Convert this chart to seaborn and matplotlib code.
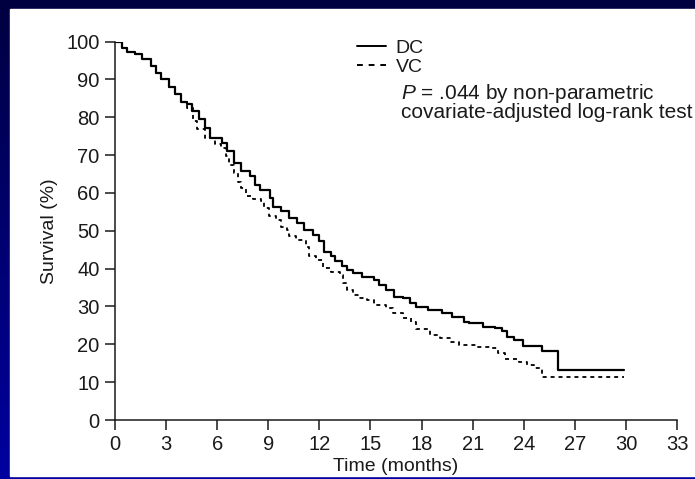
import numpy as np
import pandas as pd
import seaborn as sns
import matplotlib.pyplot as plt
from matplotlib.patches import Rectangle
from matplotlib.colors import LinearSegmentedColormap

# Kaplan-Meier style step data: time (months) -> survival (%)
dc_time = [0, 0.43, 0.72, 1.2, 1.6, 2.1, 2.4, 2.7, 3.2, 3.5, 3.86, 4.25, 4.55, 4.94,
           5.3, 5.6, 6.3, 6.6, 7.0, 7.4, 7.9, 8.2, 8.5, 9.1, 9.25, 9.75, 10.2, 10.7,
           11.1, 11.6, 12.0, 12.3, 12.7, 12.9, 13.3, 13.6, 13.96, 14.5, 15.2, 15.5,
           15.9, 16.4, 16.9, 17.3, 17.7, 18.4, 19.2, 19.8, 20.5, 20.8, 21.6, 22.3,
           22.7, 23.0, 23.4, 23.96, 25.1, 26.0, 29.9]
dc_surv = [100, 98.4, 97.3, 96.6, 95.3, 93.6, 91.8, 90, 88, 86, 83.9, 83.4, 81.7, 79.5,
           77.2, 74.6, 73.3, 71, 67.9, 65.7, 64.4, 62.2, 60.8, 58.6, 56.4, 55.1, 53.3, 52,
           50.3, 48.9, 47.2, 44.5, 43.2, 41.9, 40.6, 39.7, 38.8, 37.8, 37, 35.7,
           34.4, 32.6, 32.2, 30.9, 29.8, 29.1, 28.2, 27.3, 26, 25.6, 24.7, 24.3,
           23.4, 22, 21.2, 19.6, 18.1, 13.2, 13.2]

vc_time = [0, 0.43, 0.72, 1.2, 1.6, 2.1, 2.4, 2.7, 3.2, 3.5, 3.86, 4.2, 4.6, 4.8,
           5.3, 5.9, 6.2, 6.5, 6.7, 7.0, 7.2, 7.4, 7.7, 8.1, 8.6, 8.76, 9.06, 9.45,
           9.75, 10.1, 10.2, 10.6, 11.2, 11.4, 11.8, 12.2, 12.7, 13.2, 13.4, 13.6,
           13.96, 14.35, 14.8, 15.2, 15.9, 16.3, 16.9, 17.4, 17.7, 18.5, 19.1, 19.75,
           20.2, 21.2, 22.0, 22.5, 22.9, 23.7, 24.2, 24.6, 25.1, 29.9]
vc_surv = [100, 98.4, 97.3, 96.6, 95.3, 93.6, 91.8, 90, 88, 86, 83.9, 82.5, 79, 77,
           74.6, 73, 71.9, 69.7, 67.5, 65.3, 63, 61.3, 59.1, 58.5, 57.8, 56, 53.8, 52.9,
           51.1, 50.3, 48.5, 47.6, 45.8, 43.2, 42.3, 40.1, 39.2, 38.4, 36.2, 34.4,
           33.1, 32.2, 31.7, 30.4, 29.5, 28.2, 26.9, 26, 24.0, 22.5, 21.6, 20.7,
           19.8, 19.4, 19, 17.6, 16, 15.4, 14.5, 13.7, 11.3, 11.3]

x_ticks = list(range(0, 34, 3))
y_ticks = list(range(0, 101, 10))

sns.set_style('ticks')
plt.rcParams['font.family'] = ['Liberation Sans', 'DejaVu Sans']
plt.rcParams['mathtext.fontset'] = 'custom'
plt.rcParams['mathtext.it'] = 'Liberation Sans:italic'
plt.rcParams['mathtext.rm'] = 'Liberation Sans'

txt = '#1a1a1a'

fig = plt.figure(figsize=(6.95, 4.79), dpi=100)

# navy slide background with a white panel
bg = fig.add_axes([0, 0, 1, 1], zorder=-10)
grad = np.linspace(0, 1, 256).reshape(-1, 1)
bg.imshow(grad, aspect='auto', extent=[0, 1, 0, 1], origin='upper',
          cmap=LinearSegmentedColormap.from_list('navy', ['#000040', '#0000a0']))
bg.add_patch(Rectangle((10 / 695, 3 / 479), 1, 1 - 12 / 479, color='white'))
bg.set_xlim(0, 1)
bg.set_ylim(0, 1)
bg.axis('off')

ax = fig.add_axes([115 / 695, 1 - 420 / 479, 562 / 695, 378.5 / 479])
ax.patch.set_alpha(0)

dc = pd.DataFrame({'time': dc_time, 'survival': dc_surv})
vc = pd.DataFrame({'time': vc_time, 'survival': vc_surv})
sns.lineplot(data=dc, x='time', y='survival', ax=ax, color='black', lw=1.6,
             drawstyle='steps-post', label='DC')
sns.lineplot(data=vc, x='time', y='survival', ax=ax, color='black', lw=1.3,
             drawstyle='steps-post', linestyle=(0, (2.2, 2.2)), label='VC')

ax.set_xlim(0, 33)
ax.set_ylim(0, 100)
ax.set_xticks(x_ticks)
ax.set_yticks(y_ticks)
ax.tick_params(direction='out', length=7, width=1.1, labelsize=14.5,
               colors=txt, pad=4)
for s in ['top', 'right']:
    ax.spines[s].set_visible(False)
for s in ['left', 'bottom']:
    ax.spines[s].set_linewidth(1.1)
    ax.spines[s].set_color(txt)
ax.set_xlabel('Time (months)', fontsize=14, color=txt, labelpad=3)
ax.set_ylabel('Survival (%)', fontsize=14, color=txt, labelpad=6)

leg = ax.legend(loc='upper left', bbox_to_anchor=(0.43, 1.005), frameon=False,
                fontsize=14, handlelength=1.5, handletextpad=0.5, labelspacing=0.05,
                borderpad=0, borderaxespad=0, labelcolor=txt)
for h in leg.get_lines():
    h.set_linewidth(1.4)
leg.get_lines()[1].set_linestyle((0, (3, 3)))

ax.text(16.8, 84.0, '$P$ = .044 by non-parametric\ncovariate-adjusted log-rank test',
        fontsize=15, color=txt, ha='left', va='center', linespacing=0.88)

fig.savefig('out.png', dpi=100)
